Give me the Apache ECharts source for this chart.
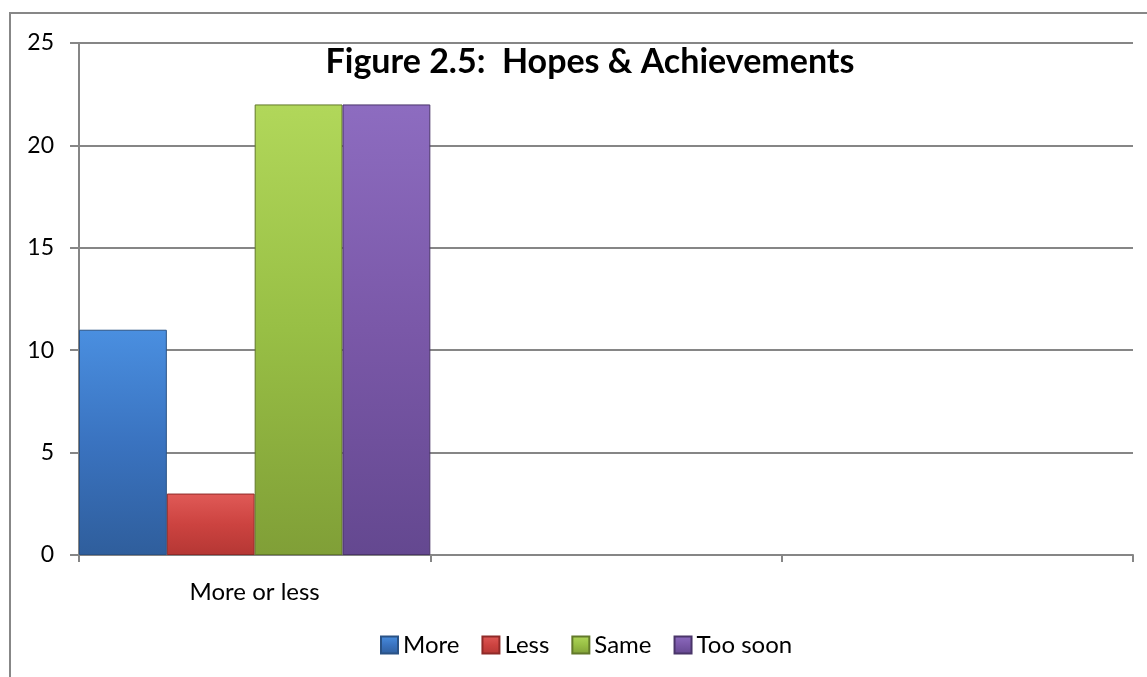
<!DOCTYPE html>
<html>
<head>
<meta charset="utf-8">
<script src="https://cdn.jsdelivr.net/npm/echarts@6/dist/echarts.min.js"></script>
<style>
html,body{margin:0;padding:0;background:#fff;}
#chart{width:1147px;height:677px;}
</style>
</head>
<body>
<div id="chart"></div>
<script>
const titleText = 'Figure 2.5:  Hopes & Achievements';
const categories = ['More or less', '', ''];
const seriesNames = ['More', 'Less', 'Same', 'Too soon'];
const moreValues = [11, null, null];
const lessValues = [3, null, null];
const sameValues = [22, null, null];
const tooSoonValues = [22, null, null];
const yTicks = [0, 5, 10, 15, 20, 25];

const FONT = 'Lato, "Open Sans", sans-serif';
const palettes = [
  ['#4a8fe0', '#3a73c0', '#2f5e9c', '#2a5285'],
  ['#e05a57', '#cc4340', '#b53734', '#8f2a28'],
  ['#b1d75a', '#98bf45', '#809f37', '#62792a'],
  ['#8d6cc0', '#7a58a8', '#644890', '#4a3569']
];
function grad(p) {
  return new echarts.graphic.LinearGradient(0, 0, 0, 1, [
    {offset: 0, color: p[0]},
    {offset: 0.5, color: p[1]},
    {offset: 1, color: p[2]}
  ]);
}
const valueSets = [moreValues, lessValues, sameValues, tooSoonValues];

const chart = echarts.init(document.getElementById('chart'), null, {renderer: 'canvas'});
chart.setOption({
  backgroundColor: '#ffffff',
  animation: false,
  title: {
    text: titleText,
    left: 585,
    textAlign: 'center',
    top: 40,
    textStyle: {fontFamily: FONT, fontWeight: 'bold', fontSize: 34, color: '#000'}
  },
  graphic: [{
    type: 'rect',
    shape: {x: 10, y: 13, width: 1200, height: 700},
    style: {fill: null, stroke: '#878787', lineWidth: 2},
    silent: true
  }],
  legend: {
    data: seriesNames,
    left: 375,
    top: 628,
    itemWidth: 17,
    itemHeight: 17,
    itemGap: 22,
    icon: 'rect',
    textStyle: {fontFamily: FONT, fontSize: 24, color: '#000'}
  },
  grid: {left: 79, right: 14, top: 43, bottom: 122, containLabel: false},
  xAxis: {
    type: 'category',
    data: categories,
    boundaryGap: true,
    axisLine: {lineStyle: {color: '#868686', width: 2}},
    axisTick: {show: true, length: 7, lineStyle: {color: '#868686', width: 2}},
    axisLabel: {fontFamily: FONT, fontSize: 24, color: '#000', margin: 25}
  },
  yAxis: {
    type: 'value',
    min: 0, max: 25, interval: 5,
    axisLine: {show: true, lineStyle: {color: '#868686', width: 2}},
    axisTick: {show: true, length: 9, lineStyle: {color: '#868686', width: 2}},
    splitLine: {lineStyle: {color: '#868686', width: 2}},
    axisLabel: {fontFamily: FONT, fontSize: 23, color: '#000', margin: 25,
      formatter: v => yTicks.includes(v) ? String(v) : ''}
  },
  series: seriesNames.map((name, i) => ({
    name: name,
    type: 'bar',
    data: valueSets[i],
    barGap: '0%',
    barCategoryGap: '0%',
    itemStyle: {color: grad(palettes[i]), borderColor: palettes[i][3], borderWidth: 1}
  }))
});
</script>
</body>
</html>
